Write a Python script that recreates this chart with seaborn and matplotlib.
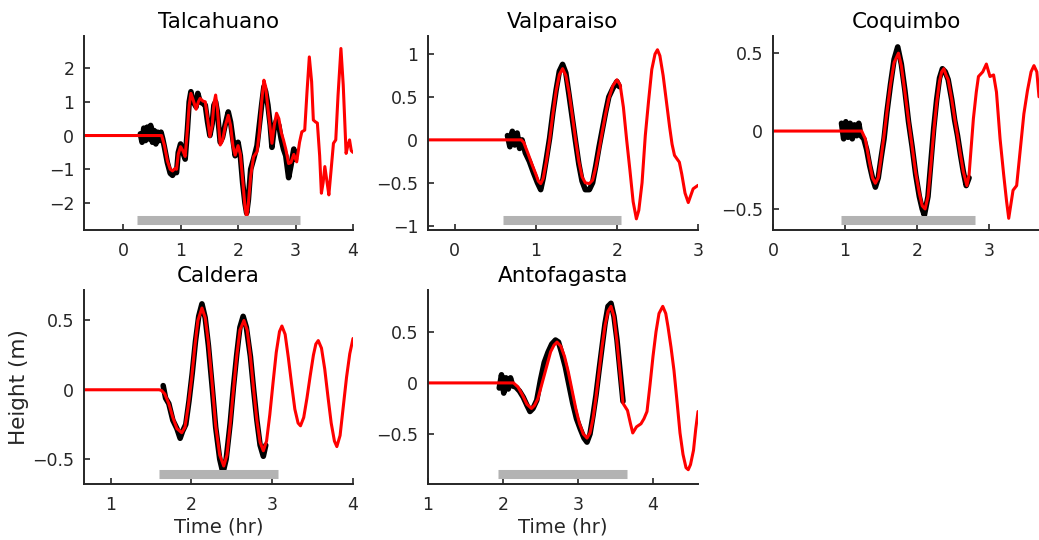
import matplotlib
matplotlib.use("Agg")
import matplotlib.pyplot as plt
import seaborn as sns
import pandas as pd
from matplotlib.ticker import FuncFormatter

# ---------------- data: model (red) and observed (black) sea level, hours / metres
stations = ["Talcahuano", "Valparaiso", "Coquimbo", "Caldera", "Antofagasta"]

tal_model_t = [-0.68, 0.67, 0.72, 0.77, 0.82, 0.86, 0.90, 0.93, 0.96, 1.00, 1.04, 1.08, 1.12, 1.15,
               1.18, 1.22, 1.27, 1.31, 1.34, 1.39, 1.43, 1.47, 1.51, 1.55, 1.58, 1.61, 1.64, 1.69,
               1.73, 1.78, 1.83, 1.87, 1.91, 1.95, 2.00, 2.04, 2.08, 2.12, 2.15, 2.18, 2.22, 2.27,
               2.33, 2.37, 2.41, 2.45, 2.48, 2.52, 2.56, 2.59, 2.63, 2.67, 2.71, 2.75, 2.79, 2.83,
               2.88, 2.92, 2.97, 3.02, 3.07, 3.11, 3.16, 3.20, 3.24, 3.28, 3.31, 3.35, 3.38, 3.42,
               3.45, 3.48, 3.51, 3.55, 3.58, 3.62, 3.66, 3.70, 3.74, 3.79, 3.83, 3.88, 3.91, 3.94,
               3.97, 4.00]
tal_model_h = [0.0, 0.0, -0.30, -0.75, -1.00, -1.05, -0.98, -1.00, -0.55, -0.33, -0.45, -0.62, 0.20, 0.90,
               1.25, 1.05, 0.78, 1.00, 1.10, 1.02, 1.00, 0.50, -0.03, 0.30, 0.95, 1.20, 0.80, -0.28,
               -0.15, 0.30, 0.60, 0.30, -0.30, -0.58, -0.30, -0.55, -1.30, -2.10, -2.45, -2.00, -1.20, -0.63,
               -0.48, 0.10, 1.00, 1.64, 1.45, 0.80, 0.20, -0.23, 0.30, 0.66, 0.50, 0.10, -0.13, -0.40,
               -0.83, -0.80, -0.56, -0.78, -0.20, 0.11, 0.16, 1.30, 2.33, 1.60, 0.46, 0.40, 0.37, -0.60,
               -1.71, -1.40, -0.92, -1.40, -1.76, -1.00, -0.23, -0.13, 1.20, 2.58, 1.50, -0.53, -0.30, -0.13,
               -0.45, -0.50]
tal_obs_t = [0.30, 0.33, 0.36, 0.39, 0.42, 0.45, 0.48, 0.51, 0.54, 0.57, 0.60, 0.63, 0.66, 0.69,
             0.72, 0.77, 0.82, 0.86, 0.90, 0.93, 0.96, 1.00, 1.04, 1.08, 1.12, 1.15, 1.18, 1.22,
             1.27, 1.30, 1.34, 1.39, 1.43, 1.47, 1.51, 1.55, 1.58, 1.61, 1.64, 1.69, 1.73, 1.78,
             1.83, 1.87, 1.91, 1.95, 2.00, 2.04, 2.08, 2.12, 2.15, 2.18, 2.22, 2.27, 2.33, 2.37,
             2.41, 2.45, 2.48, 2.52, 2.56, 2.59, 2.63, 2.67, 2.71, 2.75, 2.79, 2.83, 2.88, 2.92,
             2.97, 3.00]
tal_obs_h = [0.05, -0.20, 0.22, -0.15, 0.25, -0.10, 0.30, -0.20, 0.15, -0.25, 0.10, -0.15, 0.10, -0.10,
             -0.35, -0.80, -1.12, -1.18, -1.05, -1.10, -0.50, -0.25, -0.50, -0.70, 0.20, 1.00, 1.30, 1.00,
             0.85, 1.25, 1.00, 0.95, 0.90, 0.40, 0.00, 0.35, 0.90, 1.00, 0.70, -0.20, -0.05, 0.35,
             0.70, 0.40, -0.10, -0.60, -0.20, -0.60, -1.40, -2.00, -2.30, -1.90, -1.00, -0.70, -0.30, 0.30,
             0.90, 1.45, 1.30, 0.90, 0.30, -0.35, 0.25, 0.45, 0.30, -0.10, -0.40, -0.60, -1.25, -0.90,
             -0.40, -0.70]

val_model_t = [-0.33, 0.82, 0.85, 0.90, 0.95, 1.00, 1.03, 1.06, 1.09, 1.13, 1.17, 1.21, 1.25, 1.29,
               1.33, 1.37, 1.41, 1.45, 1.49, 1.53, 1.57, 1.61, 1.66, 1.70, 1.74, 1.78, 1.82, 1.86,
               1.90, 1.95, 2.00, 2.04, 2.08, 2.12, 2.16, 2.20, 2.24, 2.27, 2.31, 2.35, 2.39, 2.43,
               2.47, 2.50, 2.53, 2.57, 2.61, 2.65, 2.68, 2.71, 2.74, 2.77, 2.80, 2.84, 2.88, 2.91,
               2.94, 2.97, 3.00]
val_model_h = [0.0, 0.0, -0.03, -0.15, -0.28, -0.40, -0.48, -0.51, -0.45, -0.25, 0.00, 0.30, 0.57, 0.76,
               0.83, 0.75, 0.55, 0.28, 0.00, -0.25, -0.43, -0.50, -0.51, -0.47, -0.32, -0.12, 0.10, 0.30,
               0.48, 0.63, 0.70, 0.64, 0.38, 0.00, -0.35, -0.72, -0.92, -0.82, -0.50, 0.05, 0.45, 0.82,
               1.00, 1.05, 0.98, 0.75, 0.45, 0.15, -0.05, -0.18, -0.22, -0.26, -0.40, -0.62, -0.73, -0.65,
               -0.57, -0.55, -0.53]
val_obs_t = [0.65, 0.68, 0.71, 0.74, 0.77, 0.80, 0.83, 0.87, 0.92, 0.97, 1.02, 1.06, 1.09, 1.13,
             1.17, 1.21, 1.25, 1.29, 1.33, 1.37, 1.41, 1.45, 1.49, 1.53, 1.57, 1.61, 1.66, 1.70,
             1.74, 1.78, 1.82, 1.86, 1.90, 1.95, 2.00, 2.03]
val_obs_h = [0.05, -0.08, 0.10, -0.06, 0.08, -0.10, 0.00, -0.15, -0.25, -0.38, -0.50, -0.58, -0.45, -0.22,
             0.02, 0.32, 0.58, 0.80, 0.88, 0.78, 0.52, 0.25, -0.02, -0.28, -0.48, -0.58, -0.58, -0.50,
             -0.30, -0.08, 0.12, 0.32, 0.50, 0.60, 0.68, 0.62]

coq_model_t = [0.00, 1.23, 1.28, 1.33, 1.38, 1.42, 1.46, 1.50, 1.54, 1.58, 1.63, 1.68, 1.74, 1.78,
               1.83, 1.88, 1.93, 1.98, 2.03, 2.07, 2.11, 2.15, 2.19, 2.23, 2.27, 2.31, 2.34, 2.37,
               2.40, 2.43, 2.48, 2.52, 2.56, 2.60, 2.64, 2.69, 2.72, 2.75, 2.78, 2.82, 2.85, 2.91,
               2.96, 3.01, 3.06, 3.10, 3.15, 3.20, 3.24, 3.27, 3.33, 3.38, 3.43, 3.48, 3.53, 3.58,
               3.62, 3.66, 3.69]
coq_model_h = [0.0, 0.0, -0.05, -0.18, -0.30, -0.335, -0.30, -0.17, -0.03, 0.12, 0.30, 0.44, 0.50, 0.42,
               0.25, 0.07, -0.10, -0.27, -0.40, -0.48, -0.50, -0.42, -0.22, 0.00, 0.18, 0.32, 0.38, 0.40,
               0.36, 0.33, 0.20, 0.08, -0.03, -0.15, -0.26, -0.35, -0.28, -0.10, 0.08, 0.25, 0.35, 0.38,
               0.43, 0.35, 0.36, 0.25, -0.05, -0.28, -0.45, -0.56, -0.38, -0.35, -0.12, 0.11, 0.26, 0.38,
               0.42, 0.38, 0.22]
coq_obs_t = [0.95, 0.98, 1.01, 1.04, 1.07, 1.10, 1.13, 1.16, 1.19, 1.22, 1.26, 1.30, 1.34, 1.38,
             1.42, 1.46, 1.50, 1.54, 1.58, 1.63, 1.68, 1.73, 1.78, 1.83, 1.88, 1.93, 1.98, 2.03,
             2.07, 2.10, 2.15, 2.19, 2.23, 2.27, 2.31, 2.35, 2.39, 2.43, 2.48, 2.52, 2.56, 2.60,
             2.64, 2.68, 2.72]
coq_obs_h = [0.05, -0.05, 0.06, -0.04, 0.05, -0.05, 0.04, -0.03, 0.05, -0.03, -0.05, -0.12, -0.22, -0.30,
             -0.36, -0.30, -0.17, -0.05, 0.12, 0.30, 0.46, 0.54, 0.43, 0.26, 0.06, -0.10, -0.28, -0.42,
             -0.50, -0.54, -0.42, -0.20, 0.02, 0.20, 0.34, 0.40, 0.38, 0.33, 0.20, 0.07, -0.03, -0.15,
             -0.26, -0.35, -0.30]

cal_model_t = [0.67, 1.60, 1.63, 1.67, 1.72, 1.77, 1.82, 1.88, 1.92, 1.96, 2.00, 2.04, 2.08, 2.13,
               2.17, 2.21, 2.26, 2.30, 2.35, 2.40, 2.44, 2.48, 2.52, 2.56, 2.60, 2.65, 2.69, 2.73,
               2.77, 2.81, 2.85, 2.89, 2.93, 2.97, 3.01, 3.05, 3.09, 3.12, 3.16, 3.20, 3.24, 3.28,
               3.32, 3.35, 3.39, 3.43, 3.47, 3.51, 3.54, 3.57, 3.61, 3.65, 3.69, 3.73, 3.77, 3.80,
               3.84, 3.88, 3.92, 3.96, 4.00]
cal_model_h = [0.0, 0.0, -0.005, -0.03, -0.10, -0.20, -0.28, -0.31, -0.27, -0.12, 0.07, 0.30, 0.50, 0.59,
               0.52, 0.34, 0.02, -0.26, -0.47, -0.55, -0.47, -0.25, 0.00, 0.24, 0.43, 0.50, 0.43, 0.24,
               0.00, -0.22, -0.38, -0.44, -0.37, -0.18, 0.05, 0.27, 0.42, 0.46, 0.40, 0.23, 0.04, -0.14,
               -0.24, -0.26, -0.20, -0.06, 0.10, 0.25, 0.33, 0.355, 0.30, 0.15, -0.05, -0.24, -0.37, -0.41,
               -0.33, -0.12, 0.09, 0.26, 0.37]
cal_obs_t = [1.65, 1.68, 1.72, 1.77, 1.82, 1.86, 1.89, 1.93, 1.97, 2.01, 2.05, 2.09, 2.13, 2.17,
             2.21, 2.26, 2.30, 2.35, 2.39, 2.43, 2.48, 2.52, 2.56, 2.60, 2.64, 2.68, 2.73, 2.77,
             2.81, 2.85, 2.89, 2.92]
cal_obs_h = [0.03, -0.06, -0.10, -0.22, -0.28, -0.35, -0.30, -0.25, -0.08, 0.12, 0.35, 0.53, 0.62, 0.52,
             0.32, 0.00, -0.27, -0.50, -0.60, -0.50, -0.24, 0.02, 0.25, 0.45, 0.53, 0.45, 0.24, 0.00,
             -0.22, -0.40, -0.48, -0.40]

ant_model_t = [1.00, 2.14, 2.20, 2.26, 2.32, 2.38, 2.42, 2.465, 2.55, 2.635, 2.68, 2.72, 2.77, 2.82,
               2.87, 2.92, 2.97, 3.02, 3.07, 3.12, 3.16, 3.20, 3.24, 3.28, 3.32, 3.36, 3.40, 3.44,
               3.48, 3.52, 3.56, 3.60, 3.66, 3.70, 3.73, 3.78, 3.84, 3.88, 3.92, 3.96, 4.00, 4.04,
               4.08, 4.13, 4.17, 4.20, 4.24, 4.28, 4.32, 4.36, 4.40, 4.44, 4.47, 4.50, 4.54, 4.57,
               4.60]
ant_model_h = [0.0, 0.0, -0.04, -0.12, -0.21, -0.25, -0.22, -0.155, 0.075, 0.305, 0.37, 0.40, 0.36, 0.26,
               0.11, -0.07, -0.25, -0.40, -0.50, -0.54, -0.49, -0.35, -0.14, 0.105, 0.35, 0.56, 0.70, 0.75,
               0.65, 0.40, 0.10, -0.20, -0.27, -0.40, -0.49, -0.43, -0.40, -0.35, -0.28, -0.02, 0.26, 0.50,
               0.68, 0.75, 0.68, 0.55, 0.35, 0.12, -0.18, -0.49, -0.70, -0.83, -0.85, -0.80, -0.66, -0.45,
               -0.28]
ant_obs_t = [1.95, 1.98, 2.01, 2.04, 2.07, 2.10, 2.13, 2.17, 2.22, 2.27, 2.32, 2.36, 2.40, 2.45,
             2.50, 2.55, 2.60, 2.65, 2.70, 2.74, 2.78, 2.83, 2.88, 2.93, 2.98, 3.03, 3.08, 3.12,
             3.16, 3.20, 3.24, 3.28, 3.32, 3.36, 3.40, 3.44, 3.48, 3.52, 3.56, 3.60]
ant_obs_h = [-0.05, 0.08, -0.10, 0.05, -0.06, 0.05, -0.03, -0.04, -0.08, -0.14, -0.22, -0.28, -0.25, -0.17,
             0.03, 0.20, 0.30, 0.38, 0.42, 0.40, 0.30, 0.16, -0.02, -0.20, -0.35, -0.45, -0.54, -0.58,
             -0.50, -0.32, -0.12, 0.12, 0.35, 0.58, 0.75, 0.78, 0.65, 0.42, 0.12, -0.18]

# gray bars: time window of the observed record used in each panel
window_start = [0.25, 0.60, 0.95, 1.60, 1.93]
window_end = [3.07, 2.05, 2.80, 3.07, 3.65]

# axis limits and ticks
x_limits = [(-0.68, 4.0), (-0.33, 3.0), (0.0, 3.69), (0.67, 4.0), (1.0, 4.6)]
y_limits = [(-2.8, 2.95), (-1.05, 1.21), (-0.635, 0.61), (-0.68, 0.72), (-0.99, 0.91)]
x_ticks = [[0, 1, 2, 3, 4], [0, 1, 2, 3], [0, 1, 2, 3], [1, 2, 3, 4], [1, 2, 3, 4]]
y_ticks = [[-2, -1, 0, 1, 2], [-1, -0.5, 0, 0.5, 1], [-0.5, 0, 0.5], [-0.5, 0, 0.5], [-0.5, 0, 0.5]]

model_series = [(tal_model_t, tal_model_h), (val_model_t, val_model_h), (coq_model_t, coq_model_h),
                (cal_model_t, cal_model_h), (ant_model_t, ant_model_h)]
obs_series = [(tal_obs_t, tal_obs_h), (val_obs_t, val_obs_h), (coq_obs_t, coq_obs_h),
              (cal_obs_t, cal_obs_h), (ant_obs_t, ant_obs_h)]

# ---------------- figure
sns.set_theme(style="ticks")
plt.rcParams["font.family"] = ["DejaVu Sans"]
plt.rcParams["axes.edgecolor"] = "#262626"
plt.rcParams["xtick.color"] = "#262626"
plt.rcParams["ytick.color"] = "#262626"

fig = plt.figure(figsize=(10.39, 5.40), dpi=100)
W, H = 1039.0, 540.0
# axes boxes in pixels: left, top, right, bottom
boxes = [(84, 36, 353, 230), (428, 36, 698, 230), (773, 36, 1039, 230),
         (84, 290, 353, 484), (428, 290, 698, 484)]


def fmt(v, _pos):
    s = "%g" % v
    return s.replace("-", "\u2212")


for i, name in enumerate(stations):
    l, t, r, b = boxes[i]
    ax = fig.add_axes([l / W, 1 - b / H, (r - l) / W, (b - t) / H])

    ot, oh = obs_series[i]
    sns.lineplot(data=pd.DataFrame({"t": ot, "h": oh}), x="t", y="h", ax=ax,
                 color="black", linewidth=4.0, estimator=None, sort=False,
                 solid_joinstyle="round", solid_capstyle="round")
    mt, mh = model_series[i]
    sns.lineplot(data=pd.DataFrame({"t": mt, "h": mh}), x="t", y="h", ax=ax,
                 color="#ff0000", linewidth=2.2, estimator=None, sort=False,
                 solid_joinstyle="round")

    ax.hlines(0.05, window_start[i], window_end[i], transform=ax.get_xaxis_transform(),
              color="#b3b3b3", linewidth=6.5)

    ax.set_xlim(*x_limits[i])
    ax.set_ylim(*y_limits[i])
    ax.set_xticks(x_ticks[i])
    ax.set_yticks(y_ticks[i])
    ax.xaxis.set_major_formatter(FuncFormatter(fmt))
    ax.yaxis.set_major_formatter(FuncFormatter(fmt))
    ax.tick_params(axis="both", direction="in", length=4, width=1.2, labelsize=12.5)
    ax.tick_params(axis="x", pad=9)
    ax.tick_params(axis="y", pad=7)
    for side in ("top", "right"):
        ax.spines[side].set_visible(False)
    for side in ("left", "bottom"):
        ax.spines[side].set_linewidth(1.4)
    ax.set_title(name, fontsize=15.5, pad=6, color="black")
    ax.set_xlabel("")
    ax.set_ylabel("")
    if i >= 3:
        ax.set_xlabel("Time (hr)", fontsize=14, labelpad=2)
    if i == 3:
        ax.set_ylabel("Height (m)", fontsize=15.5, labelpad=2)

fig.savefig("out.png", dpi=100)
